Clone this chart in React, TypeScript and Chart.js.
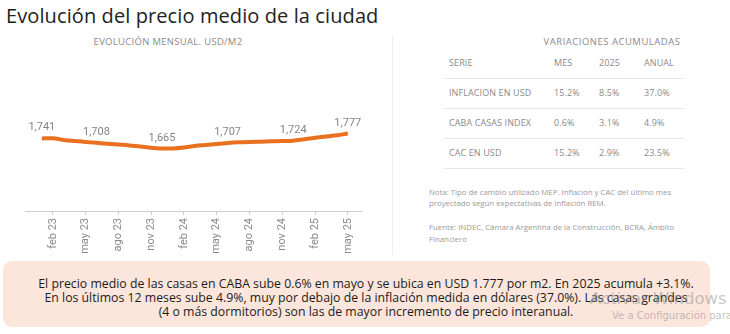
import React, { useEffect, useRef } from "react";
import { Chart, registerables } from "chart.js";

Chart.register(...registerables);

// ---- data ----
const months = [
  "ene 23", "feb 23", "mar 23", "abr 23", "may 23", "jun 23", "jul 23", "ago 23", "sep 23", "oct 23", "nov 23", "dic 23",
  "ene 24", "feb 24", "mar 24", "abr 24", "may 24", "jun 24", "jul 24", "ago 24", "sep 24", "oct 24", "nov 24", "dic 24",
  "ene 25", "feb 25", "mar 25", "abr 25", "may 25",
];
const prices = [
  1741, 1742, 1730, 1722, 1715, 1708, 1701, 1695, 1689, 1680, 1672, 1665,
  1666, 1673, 1685, 1692, 1700, 1707, 1712, 1715, 1717, 1719, 1721, 1724,
  1735, 1746, 1755, 1765, 1777,
];
const tickMonths = ["feb 23", "may 23", "ago 23", "nov 23", "feb 24", "may 24", "ago 24", "nov 24", "feb 25", "may 25"];
const labeledMonths = ["ene 23", "jun 23", "dic 23", "jun 24", "dic 24", "may 25"];

const tableSeries = ["INFLACION EN USD", "CABA CASAS INDEX", "CAC EN USD"];
const tableMes = ["15.2%", "0.6%", "15.2%"];
const table2025 = ["8.5%", "3.1%", "2.9%"];
const tableAnual = ["37.0%", "4.9%", "23.5%"];
const tableHeaders = ["SERIE", "MES", "2025", "ANUAL"];

const FONT = "'Open Sans', 'Noto Sans', sans-serif";

const fmt = (v: number) => String(v).replace(/\B(?=(\d{3})+(?!\d))/g, ",");

const labelPlugin = {
  id: "pointLabels",
  afterDatasetsDraw(chart: any) {
    const meta = chart.getDatasetMeta(0);
    const ctx = chart.ctx;
    ctx.save();
    ctx.font = "11px Roboto";
    ctx.fillStyle = "#858585";
    ctx.textAlign = "center";
    ctx.textBaseline = "alphabetic";
    labeledMonths.forEach((m) => {
      const i = months.indexOf(m);
      const pt = meta.data[i];
      if (pt) ctx.fillText(fmt(prices[i]), pt.x, pt.y - 8);
    });
    ctx.restore();
  },
};

function LineChart() {
  const ref = useRef<HTMLCanvasElement | null>(null);
  useEffect(() => {
    if (!ref.current) return;
    const chart = new Chart(ref.current, {
      type: "line",
      data: {
        datasets: [
          {
            data: prices.map((p, i) => ({ x: i, y: p })),
            borderColor: "#E8701F",
            borderWidth: 4,
            pointRadius: 0,
            tension: 0.4,
            cubicInterpolationMode: "monotone",
            fill: false,
          },
        ],
      },
      options: {
        animation: false,
        responsive: false,
        maintainAspectRatio: false,
        layout: { padding: { top: 50, left: 25, right: 18, bottom: 0 } },
        plugins: { legend: { display: false }, tooltip: { enabled: false } },
        scales: {
          x: {
            type: "linear",
            min: -1.54,
            max: 29.3,
            afterBuildTicks: (scale: any) => {
              scale.ticks = tickMonths.map((m) => ({ value: months.indexOf(m) }));
            },
            afterFit: (scale: any) => {
              scale.height = 48;
            },
            ticks: {
              autoSkip: false,
              minRotation: 90,
              maxRotation: 90,
              padding: 3,
              color: "#8a8a8a",
              font: { family: "Roboto", size: 11 },
              callback: (v: any) => months[Math.round(Number(v))] ?? "",
            },
            grid: { drawOnChartArea: false, drawTicks: true, tickLength: 4, color: "#cfcfcf" },
            border: { display: true, color: "#cfcfcf", width: 1 },
          },
          y: {
            display: false,
            min: 1200,
            max: 2400,
          },
        },
      },
      plugins: [labelPlugin],
    });
    return () => chart.destroy();
  }, []);
  return (
    <canvas
      ref={ref}
      width={380}
      height={259}
      style={{ position: "absolute", left: 0, top: 0, width: 380, height: 259 }}
    />
  );
}

export default function App() {
  const colX = [449, 554, 599, 644];
  const rowY = [63, 93, 123, 153];
  const lineY = [78, 108, 138, 168];
  const small: React.CSSProperties = {
    position: "absolute",
    fontFamily: FONT,
    fontSize: 9.5,
    color: "#8a8a8a",
    whiteSpace: "nowrap",
    lineHeight: "12px",
  };
  const rows = [tableHeaders, ...tableSeries.map((s, i) => [s, tableMes[i], table2025[i], tableAnual[i]])];
  return (
    <div
      style={{
        position: "fixed",
        left: 0,
        top: 0,
        width: 730,
        height: 334,
        background: "#ffffff",
        overflow: "hidden",
        fontFamily: FONT,
      }}
    >
      <div
        style={{
          position: "absolute",
          left: 6,
          top: 2,
          fontSize: 20,
          color: "#222",
          whiteSpace: "nowrap",
          lineHeight: "28px",
          letterSpacing: 0.1,
        }}
      >
        Evolución del precio medio de la ciudad
      </div>
      <div style={{ ...small, left: 168, top: 36, transform: "translateX(-50%)", letterSpacing: 0.3 }}>
        EVOLUCIÓN MENSUAL. USD/M2
      </div>
      <LineChart />
      <div style={{ position: "absolute", left: 392, top: 35, width: 1, height: 220, background: "#eeeeee" }} />
      <div style={{ ...small, left: 612, top: 36, transform: "translateX(-50%)", letterSpacing: 0.5 }}>
        VARIACIONES ACUMULADAS
      </div>
      {rows.map((r, ri) =>
        r.map((c, ci) => (
          <div key={`${ri}-${ci}`} style={{ ...small, left: colX[ci], top: rowY[ri] - 6, fontSize: 9, letterSpacing: 0.1 }}>
            {c}
          </div>
        ))
      )}
      {lineY.map((y, i) => (
        <div key={i} style={{ position: "absolute", left: 444, top: y, width: 240, height: 1, background: "#e6e6e6" }} />
      ))}
      <div style={{ ...small, left: 429, top: 187, fontSize: 7.8, lineHeight: "11px", color: "#9a9a9a" }}>
        Nota: Tipo de cambio utilizado MEP. Inflación y CAC del último mes
        <br />
        proyectado según expectativas de inflación REM.
      </div>
      <div style={{ ...small, left: 429, top: 221, fontSize: 7.8, lineHeight: "12px", color: "#9a9a9a" }}>
        Fuente: INDEC, Cámara Argentina de la Construcción, BCRA, Ámbito
        <br />
        Financiero
      </div>
      <div
        style={{
          position: "absolute",
          left: 3,
          top: 261,
          width: 707,
          height: 66,
          borderRadius: 9,
          background: "#FCE5DA",
        }}
      />
      <div
        style={{
          position: "absolute",
          left: 0,
          top: 277,
          width: 732,
          textAlign: "center",
          fontSize: 12.3,
          lineHeight: "14px",
          color: "#1c1c1c",
          fontWeight: 500,
          whiteSpace: "nowrap",
        }}
      >
        El precio medio de las casas en CABA sube 0.6% en mayo y se ubica en USD 1.777 por m2. En 2025 acumula +3.1%.
        <br />
        En los últimos 12 meses sube 4.9%, muy por debajo de la inflación medida en dólares (37.0%). Las casas grandes
        <br />
        (4 o más dormitorios) son las de mayor incremento de precio interanual.
      </div>
      <div
        style={{
          position: "absolute",
          left: 590,
          top: 289,
          fontFamily: "'DejaVu Sans', sans-serif",
          fontSize: 16.5,
          color: "rgba(150,150,150,0.55)",
          whiteSpace: "nowrap",
          lineHeight: "20px",
        }}
      >
        Activar Windows
      </div>
      <div
        style={{
          position: "absolute",
          left: 612,
          top: 309,
          fontFamily: "'DejaVu Sans', sans-serif",
          fontSize: 10,
          color: "rgba(150,150,150,0.6)",
          whiteSpace: "nowrap",
          lineHeight: "13px",
        }}
      >
        Ve a Configuración para
      </div>
    </div>
  );
}
